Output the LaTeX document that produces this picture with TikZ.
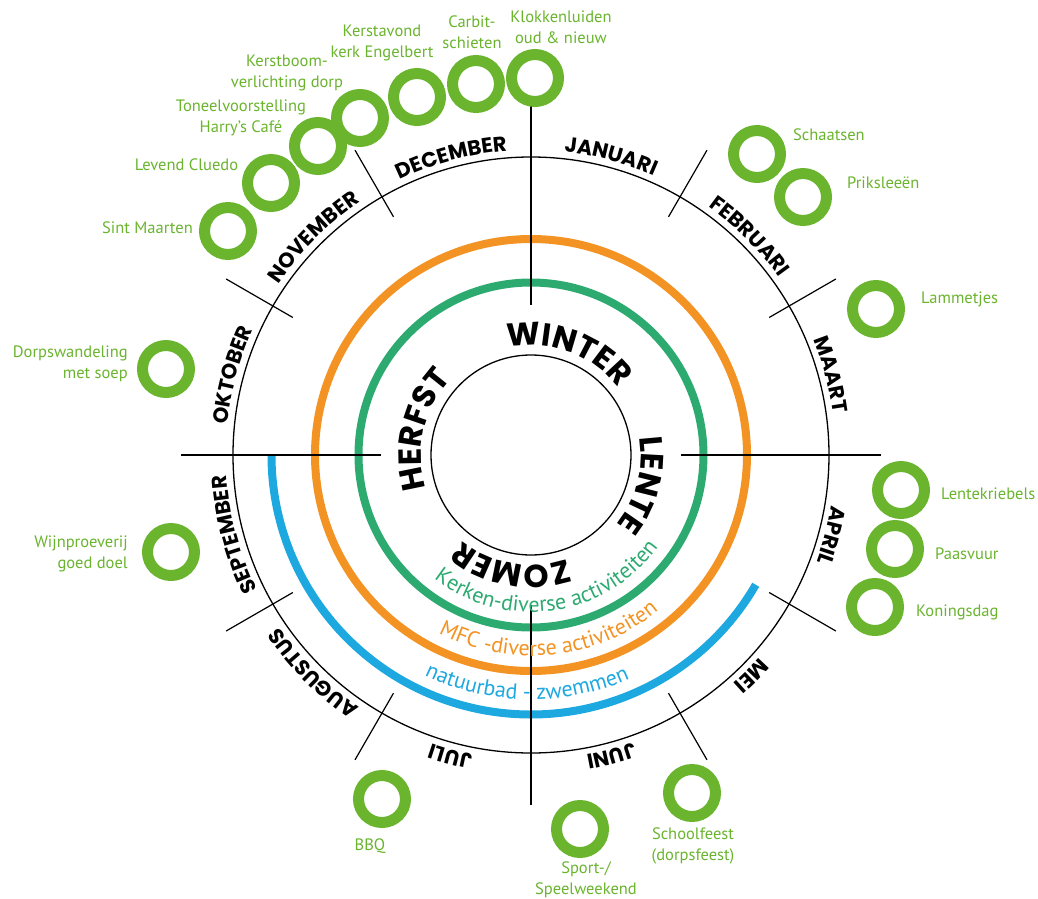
\documentclass[tikz,border=0pt]{standalone}
\usepackage{fontspec}
\setmainfont{PT Sans}
\newfontfamily\geofont{Poppins}
\usetikzlibrary{decorations.text}
\definecolor{RingGreen}{RGB}{106,180,46}
\definecolor{KerkGreen}{RGB}{44,170,112}
\definecolor{MfcOrange}{RGB}{243,147,35}
\definecolor{BathBlue}{RGB}{29,168,224}
\newcommand{\monthfont}{\geofont\bfseries\fontsize{21}{21}\selectfont}
\newcommand{\seasonfont}{\geofont\bfseries\fontsize{32}{32}\selectfont}
\newcommand{\arcfont}{\fontsize{22}{22}\selectfont}

\begin{document}
\begin{tikzpicture}[x=1pt, y=1pt,
	ring/.style={circle, draw=RingGreen, line width=11pt, minimum size=47pt, inner sep=0pt},
	lbl/.style={text=RingGreen, font=\fontsize{16.5}{21}\selectfont, align=center, inner sep=0pt},
	thinline/.style={line width=1.3pt},
	divider/.style={line width=1.2pt},
	monthtext/.style={decorate, decoration={text along path, text align=center, text/.expanded={|\noexpand\monthfont|#1}}},
	seasontext/.style={decorate, decoration={text along path, text align=center, text={|\seasonfont|#1}}},
	arctext/.style n args={2}{decorate, decoration={text along path, text align=center, text={|\color{#1}\arcfont|#2}}}]
	\useasboundingbox (-531,-443) rectangle (507,455);

	% circles
	\draw[thinline] (0,0) circle[radius=298];
	\draw[thinline] (0,0) circle[radius=100];
	\draw[KerkGreen, line width=8pt] (0,0) circle[radius=172.5];
	\draw[MfcOrange, line width=8pt] (0,0) circle[radius=216];
	\draw[BathBlue, line width=8pt] (180:259.5) arc[start angle=180, end angle=330, radius=259.5];

	% month dividers
	\foreach \a in {30,60,120,150,210,240,300,330}
		\draw[divider] (\a:275) -- (\a:352);
	\foreach \a in {0,90,180,270}
		\draw[divider] (\a:150) -- (\a:350);

	% months
	\foreach \a/\m in {75/JANUARI, 45/FEBRUARI, 15/MAART, -15/APRIL, -45/MEI, -75/JUNI,
		-105/JULI, -135/AUGUSTUS, -165/SEPTEMBER, 165/OKTOBER, 135/NOVEMBER, 105/DECEMBER}
		\path[monthtext=\m] ({\a+45}:305) arc[start angle=\a+45, end angle=\a-45, radius=305];

	% seasons
	\path[seasontext=WINTER] (130:110) arc[start angle=130, end angle=10, radius=110];
	\path[seasontext=LENTE] (45:110) arc[start angle=45, end angle=-75, radius=110];
	\path[seasontext=ZOMER] (-40:110) arc[start angle=-40, end angle=-160, radius=110];
	\path[seasontext=HERFST] (227:110) arc[start angle=227, end angle=107, radius=110];

	% activity arcs
	\path[arctext={KerkGreen}{Kerken-diverse activiteiten}] (-172:157) arc[start angle=-172, end angle=8, radius=157];
	\path[arctext={MfcOrange}{MFC -diverse activiteiten}] (-174:201) arc[start angle=-174, end angle=6, radius=201];
	\path[arctext={BathBlue}{natuurbad - zwemmen}] (-181:244.5) arc[start angle=-181, end angle=-1, radius=244.5];

	% activity rings
	\foreach \n/\x/\y in {klok/4/377, carbit/-55/371, kerstavond/-114/358, kerstboom/-171/337,
		toneel/-213/309, cluedo/-260/272, maarten/-303/224, schaatsen/226/301, priks/272/258,
		lammetjes/345/146, lente/370/-35, paasvuur/364/-94, koning/344/-152,
		dorps/-365/86, wijn/-360/-97, bbq/-149/-344, sport/49/-374, school/161/-338}
		\node[ring] (\n) at (\x,\y) {};

	% activity labels
	\node[lbl] (klok-t) at (30,427.5) {Klokkenluiden\\oud \& nieuw};
	\node[lbl] (carbit-t) at (-59,422.5) {Carbit-\\schieten};
	\node[lbl] (kerstavond-t) at (-149,412.5) {Kerstavond\\kerk Engelbert};
	\node[lbl] (kerstboom-t) at (-244,382.5) {Kerstboom-\\verlichting dorp};
	\node[lbl] (toneel-t) at (-290,337) {Toneelvoorstelling\\Harry’s Café};
	\node[lbl] (cluedo-t) at (-344.5,290) {Levend Cluedo};
	\node[lbl] (maarten-t) at (-383.5,227) {Sint Maarten};
	\node[lbl, anchor=west] (schaatsen-t) at (262,320) {Schaatsen};
	\node[lbl, anchor=west] (priks-t) at (316,272) {Priksleeën};
	\node[lbl, anchor=west] (lammetjes-t) at (390,156) {Lammetjes};
	\node[lbl, anchor=west] (lente-t) at (410,-39) {Lentekriebels};
	\node[lbl, anchor=west] (paasvuur-t) at (404,-99) {Paasvuur};
	\node[lbl, anchor=west] (koning-t) at (385,-157) {Koningsdag};
	\node[lbl, anchor=east, align=right] (dorps-t) at (-403,91) {Dorpswandeling\\met soep};
	\node[lbl, anchor=east, align=right] (wijn-t) at (-403,-98.5) {Wijnproeverij\\goed doel};
	\node[lbl] (bbq-t) at (-161,-391) {BBQ};
	\node[lbl] (sport-t) at (55,-425) {Sport-/\\Speelweekend};
	\node[lbl] (school-t) at (162,-391) {Schoolfeest\\(dorpsfeest)};
\end{tikzpicture}
\end{document}
